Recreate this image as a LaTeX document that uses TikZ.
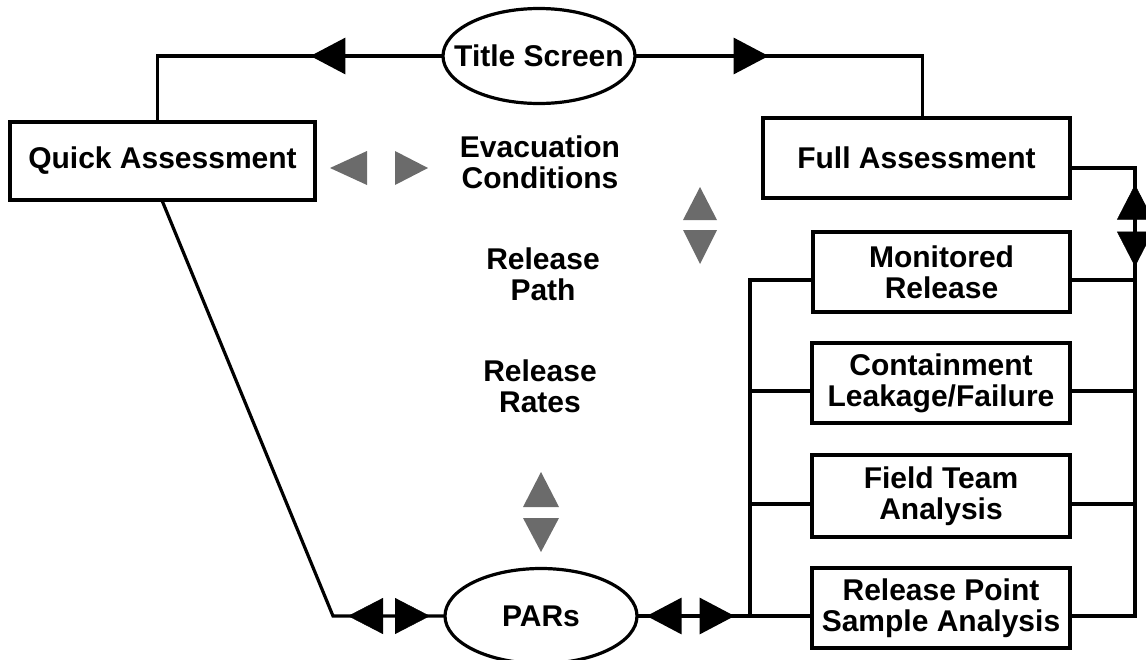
\documentclass[tikz,border=0pt]{standalone}
\usepackage{fontspec}
\setmainfont{Liberation Sans}
\usetikzlibrary{arrows.meta,decorations.markings,shapes.geometric}

\tikzset{
  bigfont/.style={font=\bfseries\fontsize{30}{31}\selectfont},
  conn/.style={line width=3.2pt,line cap=rect},
  box/.style={draw,line width=3.2pt,align=center,inner sep=0pt,bigfont},
  oval/.style={draw,ellipse,line width=3.2pt,minimum width=192pt,minimum height=95pt,inner sep=0pt},
  txt/.style={align=center,inner sep=0pt,bigfont},
  greytri/.style={fill=black!58},
  onehead/.style={postaction={decorate,decoration={markings,
      mark=at position #1 with {\arrow{>}}}}},
  twohead/.style 2 args={postaction={decorate,decoration={markings,
      mark=at position #1 with {\arrowreversed{>}},
      mark=at position #2 with {\arrow{>}}}}},
}

\begin{document}
\begin{tikzpicture}[x=1pt,y=-1pt,>={Triangle[length=35pt,width=36pt]}]
\useasboundingbox (0,0) rectangle (1146,659);

% ovals
\node[oval,label={[txt]center:Title Screen}] (title) at (539,56) {};
\node[oval,label={[txt]center:PARs}] (pars) at (541,616) {};

% boxes
\node[box,minimum width=305pt,minimum height=78pt] (quick) at (162.5,161) {Quick Assessment};
\node[box,minimum width=307pt,minimum height=80pt] (full)  at (916.5,158) {Full Assessment};
\node[box,minimum width=257pt,minimum height=80pt] (mon)   at (941.5,272) {Monitored\\Release};
\node[box,minimum width=258pt,minimum height=80pt] (cont)  at (941,383)   {Containment\\Leakage/Failure};
\node[box,minimum width=258pt,minimum height=82pt] (field) at (941,496)   {Field Team\\Analysis};
\node[box,minimum width=258pt,minimum height=80pt] (rp)    at (941,608)   {Release Point\\Sample Analysis};

% free labels
\node[txt] (evac)  at (540,162) {Evacuation\\Conditions};
\node[txt] (rpath) at (543,274) {Release\\Path};
\node[txt] (rates) at (540,386) {Release\\Rates};

% tap points on the boxes and bus corners
\foreach \n in {mon,cont,field,rp} {
  \coordinate (\n L) at ([yshift=-8pt]\n.west);
  \coordinate (\n R) at ([yshift=-8pt]\n.east);
}
\coordinate (fullR) at ([yshift=-10pt]full.east);
\coordinate (busL)  at (750,616);
\coordinate (busR)  at (1135,616);
\coordinate (qbend) at (333,616);

% title screen to the two assessments
\draw[conn,onehead=131pt] (title.west) -| ([xshift=-5pt]quick.north);
\draw[conn,onehead=132pt] (title.east) -| ([xshift=6pt]full.north);

% quick assessment to PARs
\draw[conn] (quick.south) -- (qbend) -- (pars.west);
\path[twohead={15pt}{97pt}] (qbend) -- (pars.west);

% PARs to the source-term bus
\draw[conn,twohead={8pt}{96pt}] (pars.east) -- (busL);

% left bus
\draw[conn] (monL) -| (busL) -- (rpL);
\draw[conn] (contL) -- (contL -| busL);
\draw[conn] (fieldL) -- (fieldL -| busL);

% right bus, with the double head below Full Assessment
\draw[conn] (fullR) -| (busR) -- (rpR);
\path[twohead={80pt}{162pt}] (fullR) -| (busR);
\draw[conn] (monR) -- (monR -| busR);
\draw[conn] (contR) -- (contR -| busR);
\draw[conn] (fieldR) -- (fieldR -| busR);

% grey shaded heads
\fill[greytri] (330,168) -- (367,151) -- (367,185) -- cycle;
\fill[greytri] (428,168) -- (395,151) -- (395,185) -- cycle;
\fill[greytri] (700,187) -- (683,220) -- (717,220) -- cycle;
\fill[greytri] (700,264) -- (683,230) -- (717,230) -- cycle;
\fill[greytri] (541,472) -- (523,507) -- (559,507) -- cycle;
\fill[greytri] (541,552) -- (523,518) -- (559,518) -- cycle;
\end{tikzpicture}
\end{document}
